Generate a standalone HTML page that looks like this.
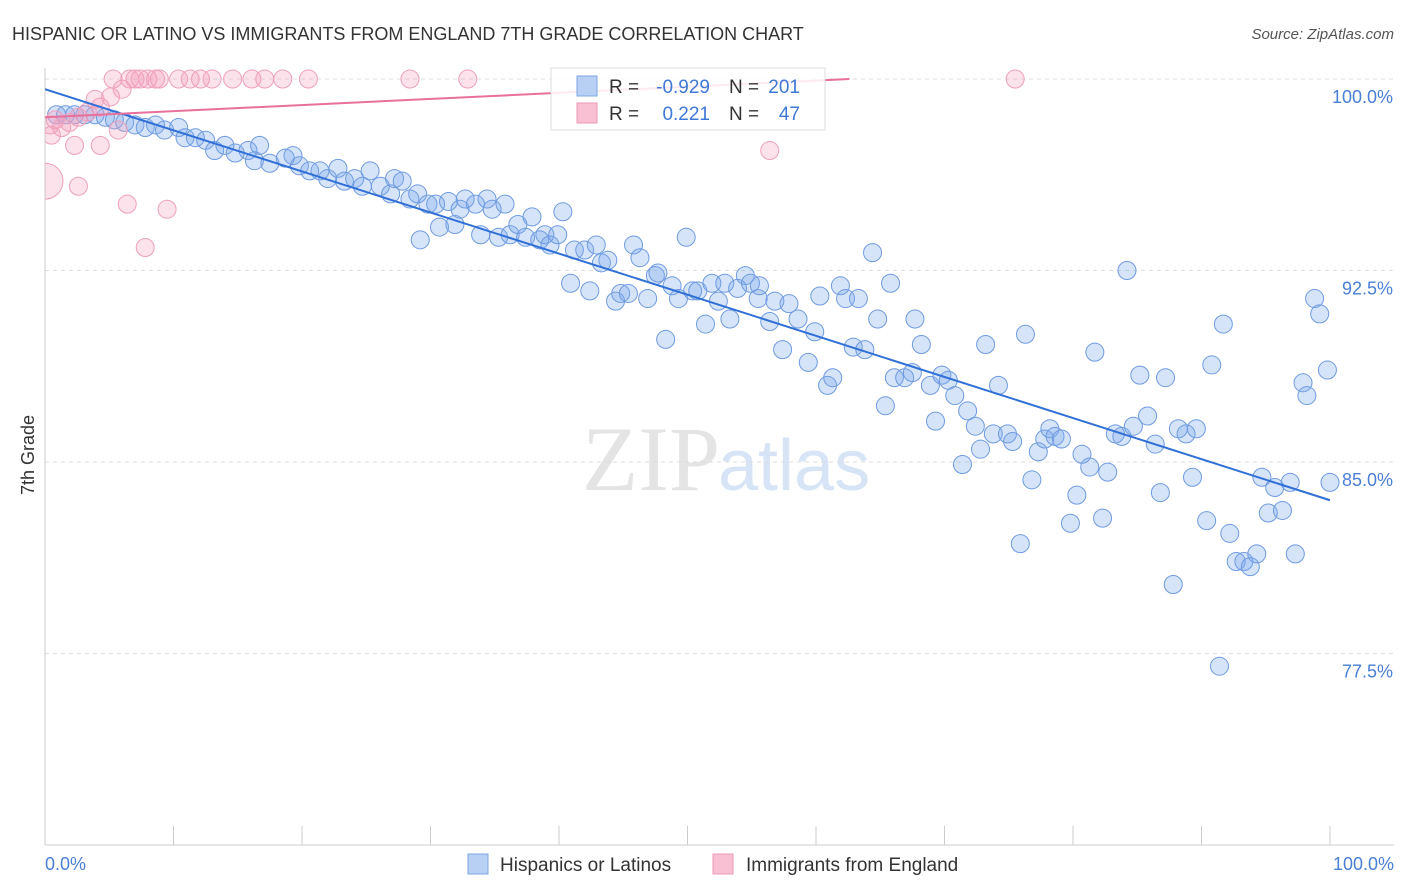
<!DOCTYPE html>
<html><head><meta charset="utf-8"><style>
body{margin:0;background:#fff;font-family:"Liberation Sans",sans-serif;}
svg{display:block}
</style></head><body>
<svg id="c" width="1406" height="892">
<defs><clipPath id="pc"><rect x="45" y="0" width="1361" height="845"/></clipPath></defs>
<text x="12" y="40" font-size="18" fill="#333">HISPANIC OR LATINO VS IMMIGRANTS FROM ENGLAND 7TH GRADE CORRELATION CHART</text>
<text x="1394" y="39" font-size="15" fill="#555" font-style="italic" text-anchor="end">Source: ZipAtlas.com</text>
<text x="720" y="490" font-size="92" fill="#e4e4e4" text-anchor="end" font-family="Liberation Serif">ZIP</text>
<text x="718" y="490" font-size="72" fill="#d6e4f5">atlas</text>
<g id="grid"></g><g id="marks" clip-path="url(#pc)"></g>
<text x="34" y="455" font-size="18" fill="#333" transform="rotate(-90 34 455)" text-anchor="middle">7th Grade</text>
<text x="45" y="870" font-size="18" fill="#4a7fd6">0.0%</text>
<text x="1394" y="870" font-size="18" fill="#4a7fd6" text-anchor="end">100.0%</text>
<g>
<rect x="551" y="68" width="274" height="62" fill="rgba(255,255,255,0.85)" stroke="#ddd"/>
<rect x="577" y="76" width="20" height="20" fill="#b8d0f3" stroke="#7fa6e4"/>
<rect x="577" y="103" width="20" height="20" fill="#f8c0d2" stroke="#ec98b4"/>
<text x="609" y="93" font-size="19" fill="#333">R =</text>
<text x="710" y="93" font-size="19" fill="#3f78d6" text-anchor="end">-0.929</text>
<text x="729" y="93" font-size="19" fill="#333">N =</text>
<text x="800" y="93" font-size="19" fill="#3f78d6" text-anchor="end">201</text>
<text x="609" y="120" font-size="19" fill="#333">R =</text>
<text x="710" y="120" font-size="19" fill="#3f78d6" text-anchor="end">0.221</text>
<text x="729" y="120" font-size="19" fill="#333">N =</text>
<text x="800" y="120" font-size="19" fill="#3f78d6" text-anchor="end">47</text>
</g>
<g>
<rect x="468" y="854" width="20" height="20" fill="#b8d0f3" stroke="#7fa6e4"/>
<text x="500" y="871" font-size="19" fill="#333">Hispanics or Latinos</text>
<rect x="713" y="854" width="20" height="20" fill="#f8c0d2" stroke="#ec98b4"/>
<text x="746" y="871" font-size="19" fill="#333">Immigrants from England</text>
</g>
</svg>
<script>
const yTicks=[100,92.5,85,77.5];
const yTickLabels=["100.0%","92.5%","85.0%","77.5%"];
const blueX=[0.9,1.6,2.3,3.1,3.9,4.7,5.4,6.2,7.0,7.8,8.6,9.3,10.4,10.9,11.7,12.5,13.2,14.0,14.8,15.8,16.7,16.3,17.5,18.7,19.3,19.8,20.6,21.4,22.0,22.8,23.3,24.1,24.7,25.3,26.1,26.9,27.2,27.8,28.4,29.0,29.2,29.8,30.4,30.7,31.4,31.9,32.3,32.7,33.5,33.9,34.4,34.8,35.3,35.8,36.2,36.8,37.4,37.9,38.5,38.9,39.3,39.9,40.3,40.9,41.2,42.0,42.4,42.9,43.3,43.8,44.4,44.8,45.4,45.8,46.3,46.9,47.5,47.7,48.3,48.8,49.3,49.9,50.4,50.8,51.4,51.9,52.4,52.9,53.3,53.9,54.5,54.9,55.5,55.6,56.4,56.8,57.4,57.9,58.6,59.4,59.9,60.3,60.9,61.3,61.9,62.3,62.9,63.3,63.8,64.4,64.8,65.4,65.8,66.1,66.9,67.5,67.7,68.2,68.9,69.3,69.8,70.3,70.8,71.4,71.8,72.4,72.8,73.2,73.8,74.2,74.9,75.3,75.9,76.3,76.8,77.3,77.8,78.2,78.6,79.1,79.8,80.3,80.7,81.3,81.7,82.3,82.7,83.3,83.8,84.2,84.7,85.2,85.8,86.4,86.8,87.2,87.8,88.2,88.8,89.3,89.6,90.4,90.8,91.4,91.7,92.2,92.7,93.3,93.8,94.3,94.7,95.2,95.7,96.3,96.9,97.3,97.9,98.2,98.8,99.2,99.8,100];
const blueY=[98.6,98.6,98.6,98.6,98.6,98.5,98.4,98.3,98.2,98.1,98.2,98.0,98.1,97.7,97.7,97.6,97.2,97.4,97.1,97.2,97.4,96.8,96.7,96.9,97.0,96.6,96.4,96.4,96.1,96.5,96.0,96.1,95.8,96.4,95.8,95.5,96.1,96.0,95.3,95.5,93.7,95.1,95.1,94.2,95.2,94.3,94.9,95.3,95.1,93.9,95.3,94.9,93.8,95.1,93.9,94.3,93.8,94.6,93.7,93.9,93.5,93.9,94.8,92.0,93.3,93.3,91.7,93.5,92.8,92.9,91.3,91.6,91.6,93.5,93.0,91.4,92.3,92.4,89.8,91.9,91.4,93.8,91.7,91.7,90.4,92.0,91.3,92.0,90.6,91.8,92.3,92.0,91.4,91.9,90.5,91.3,89.4,91.2,90.6,88.9,90.1,91.5,88.0,88.3,91.9,91.4,89.5,91.4,89.4,93.2,90.6,87.2,92.0,88.3,88.3,88.5,90.6,89.6,88.0,86.6,88.4,88.2,87.6,84.9,87.0,86.4,85.5,89.6,86.1,88.0,86.1,85.8,81.8,90.0,84.3,85.4,85.9,86.3,86.0,85.9,82.6,83.7,85.3,84.8,89.3,82.8,84.6,86.1,86.0,92.5,86.4,88.4,86.8,85.7,83.8,88.3,80.2,86.3,86.1,84.4,86.3,82.7,88.8,77.0,90.4,82.2,81.1,81.1,80.9,81.4,84.4,83.0,84.0,83.1,84.2,81.4,88.1,87.6,91.4,90.8,88.6,84.2];
const pinkX=[5.3,6.6,7.4,8.0,8.6,8.9,10.4,11.3,12.1,13.0,14.6,16.1,17.1,18.5,20.5,28.4,32.9,75.5,0.4,0.8,1.3,1.9,2.6,3.3,3.9,4.3,5.1,6.0,7.0,0.5,2.3,4.3,2.6,6.4,9.5,7.8,5.7,56.4,0];
const pinkY=[100,100,100,100,100,100,100,100,100,100,100,100,100,100,100,100,100,100,98.2,98.4,98.1,98.3,98.5,98.7,99.2,98.9,99.3,99.6,100,97.8,97.4,97.4,95.8,95.1,94.9,93.4,98.0,97.2,96.0];
const pinkR=[9,9,9,9,9,9,9,9,9,9,9,9,9,9,9,9,9,9,9,9,9,9,9,9,9,9,9,9,9,9,9,9,9,9,9,9,9,9,18];
const blueLine=[[0,99.6],[100,83.5]];
const pinkLine=[[0,98.5],[62.6,100]];
const xTicks=[0,10,20,30,40,50,60,70,80,90,100];
const NS="http://www.w3.org/2000/svg";
const X=v=>45+v*12.85, Y=v=>79+(100-v)*25.53;
const grid=document.getElementById('grid'),marks=document.getElementById('marks'),svg=document.getElementById('c');
function mk(tag,at,p){const e=document.createElementNS(NS,tag);for(const k in at)e.setAttribute(k,at[k]);(p||svg).appendChild(e);return e;}
yTicks.forEach((t,i)=>{
 const l=mk('line',{x1:45,x2:1394,y1:Y(t),y2:Y(t),stroke:'#ddd','stroke-dasharray':'4,4'},grid);
 
 
 const tx=mk('text',{x:1393,y:Y(t)+24,'font-size':18,fill:'#4a7fd6','text-anchor':'end'},grid);
 tx.textContent=yTickLabels[i];
 
 
});
const ax=mk('line',{x1:45,x2:45,y1:68,y2:845,stroke:'#ccc'},grid);


const bx=mk('line',{x1:45,x2:1394,y1:845,y2:845,stroke:'#ccc'},grid);


xTicks.forEach(t=>{
 const l=mk('line',{x1:X(t),x2:X(t),y1:826,y2:845,stroke:'#ccc'},grid);
 
 
});
blueX.forEach((v,i)=>{
 const c=mk('circle',{cx:X(v),cy:Y(blueY[i]),r:9,fill:'rgba(120,165,235,0.3)',stroke:'#6f9be0','stroke-width':1},marks);
 
 
});
pinkX.forEach((v,i)=>{
 const c=mk('circle',{cx:X(v),cy:Y(pinkY[i]),r:pinkR[i],fill:'rgba(245,160,190,0.3)',stroke:'#eea0bc','stroke-width':1},marks);
 
 
});
const bl=mk('line',{x1:X(blueLine[0][0]),y1:Y(blueLine[0][1]),x2:X(blueLine[1][0]),y2:Y(blueLine[1][1]),stroke:'#2f6fd6','stroke-width':2},marks);


const pl=mk('line',{x1:X(pinkLine[0][0]),y1:Y(pinkLine[0][1]),x2:X(pinkLine[1][0]),y2:Y(pinkLine[1][1]),stroke:'#e8709a','stroke-width':2},marks);


</script>
</body></html>
